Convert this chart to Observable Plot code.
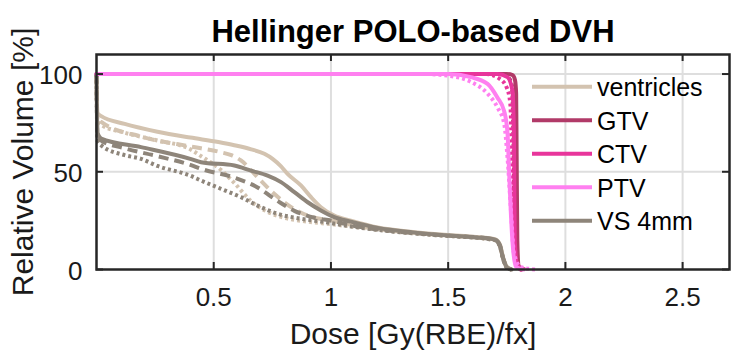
<!DOCTYPE html>
<html><head><meta charset="utf-8">
<script src="https://cdn.jsdelivr.net/npm/d3@7"></script>
<script src="https://cdn.jsdelivr.net/npm/@observablehq/plot@0.6"></script>
<style>body{margin:0;background:#fff} svg{display:block}</style>
</head><body><div id="chart"></div>
<script>
// ---- data ----
const titleText = "Hellinger POLO-based DVH";
const xLabel = "Dose [Gy(RBE)/fx]";
const yLabel = "Relative Volume [%]";
const doseTicks = [0.5, 1, 1.5, 2, 2.5];
const volTicks = [0, 50, 100];
const structures = ["ventricles", "GTV", "CTV", "PTV", "VS 4mm"];
const structureColors = ["#d3c3b0", "#b13a68", "#e8359b", "#ff80f0", "#8e857a"];

const ventSolidDose = [0, 0.004, 0.02, 0.12, 0.26, 0.40, 0.52, 0.588, 0.66, 0.716, 0.751, 0.785, 0.815, 0.872, 0.915, 0.957, 1.014, 1.085, 1.20, 1.35, 1.50, 1.62, 1.70, 1.72, 1.735, 1.75, 1.77];
const ventSolidVol  = [100, 80, 78.5, 74.5, 70.5, 67.5, 65.2, 63.6, 61.5, 59.2, 56.6, 53, 48.9, 43, 37, 31.9, 27.6, 25, 21.5, 19.2, 17.6, 16.6, 15.5, 13, 6, 1.5, 0];
const ventDashDose = [0, 0.004, 0.02, 0.19, 0.40, 0.446, 0.531, 0.575, 0.616, 0.687, 0.758, 0.83, 0.90, 1.014, 1.10, 1.25, 1.40, 1.55, 1.66, 1.70, 1.72, 1.735, 1.75, 1.77];
const ventDashVol  = [100, 78, 75.5, 68, 63, 62, 60, 58.5, 55.8, 47.2, 38.7, 31.9, 27.6, 24.8, 22.5, 20, 18.3, 17, 16, 15.2, 12.5, 5.5, 1.2, 0];
const ventDotDose = [0, 0.004, 0.02, 0.12, 0.26, 0.40, 0.446, 0.53, 0.59, 0.659, 0.73, 0.80, 0.90, 1.0, 1.10, 1.25, 1.40, 1.55, 1.66, 1.70, 1.72, 1.735, 1.75, 1.77];
const ventDotVol  = [100, 76, 74, 70, 66, 61.5, 58, 51, 44, 35, 29.5, 26.5, 24.5, 23.2, 21.8, 19.7, 18, 16.8, 15.8, 15, 12, 5, 1, 0];

const vsSolidDose = [0, 0.004, 0.02, 0.19, 0.40, 0.446, 0.588, 0.659, 0.73, 0.787, 0.844, 0.901, 0.957, 1.014, 1.085, 1.20, 1.35, 1.50, 1.62, 1.70, 1.72, 1.735, 1.75, 1.77];
const vsSolidVol  = [100, 70, 67, 62.6, 56.6, 54.9, 53.2, 50.6, 48, 44.7, 39.6, 34.4, 30.2, 26.8, 24.5, 21.3, 19, 17.4, 16.4, 15.3, 12.5, 5.5, 1.2, 0];
const vsDashDose = [0, 0.004, 0.02, 0.12, 0.26, 0.40, 0.446, 0.588, 0.687, 0.773, 0.844, 0.93, 1.0, 1.10, 1.25, 1.40, 1.55, 1.66, 1.70, 1.72, 1.735, 1.75, 1.77];
const vsDashVol  = [100, 68, 66, 62, 58, 53.5, 51.5, 47, 42, 35, 30, 26.5, 25, 22.3, 19.8, 18.2, 17, 16, 15.2, 12.5, 5.5, 1.2, 0];
const vsDotDose = [0, 0.004, 0.02, 0.12, 0.19, 0.26, 0.40, 0.446, 0.531, 0.616, 0.687, 0.773, 0.872, 1.0, 1.10, 1.25, 1.40, 1.55, 1.66, 1.70, 1.72, 1.735, 1.75, 1.77];
const vsDotVol  = [100, 66, 63.5, 58.5, 56.6, 53, 48, 45.5, 41.3, 37, 32.7, 28.5, 26, 23.8, 21.8, 19.6, 18, 16.8, 15.8, 15, 12, 5, 1, 0];

const ptvSolidDose = [0, 1.50, 1.597, 1.668, 1.71, 1.739, 1.753, 1.76, 1.767, 1.774, 1.789, 1.82];
const ptvSolidVol  = [100, 100, 98.4, 95, 88, 81, 70, 50, 30, 14.8, 1.5, 0];
const ptvDotDose = [0, 1.40, 1.497, 1.597, 1.668, 1.71, 1.739, 1.753, 1.767, 1.781, 1.81, 1.874];
const ptvDotVol  = [100, 100, 99.2, 96, 90, 83, 74.5, 57.4, 31.9, 8, 1.2, 0];
const ctvSolidDose = [0, 1.71, 1.753, 1.774, 1.781, 1.784, 1.796, 1.81];
const ctvSolidVol  = [100, 100, 98.4, 91.6, 66, 14.8, 1.2, 0];
const ctvDotDose = [0, 1.66, 1.72, 1.75, 1.765, 1.772, 1.778, 1.79, 1.83];
const ctvDotVol  = [100, 100, 97.5, 93, 85, 55, 20, 3, 0];
const gtvSolidDose = [0, 1.75, 1.775, 1.785, 1.79, 1.792, 1.795, 1.80, 1.81];
const gtvSolidVol  = [100, 100, 99.5, 97, 90, 60, 15, 2, 0];
const gtvDotDose = [0, 1.72, 1.755, 1.772, 1.778, 1.782, 1.787, 1.80, 1.82];
const gtvDotVol  = [100, 100, 98.5, 94, 70, 35, 10, 1, 0];

// ---- build ----
const color = s => structureColors[structures.indexOf(s)];
const dashes = {solid: null, dashed: "10,6", dotted: "3,3"};
const curves = [
  ["ventricles", "dotted", ventDotDose, ventDotVol],
  ["ventricles", "dashed", ventDashDose, ventDashVol],
  ["ventricles", "solid", ventSolidDose, ventSolidVol],
  ["VS 4mm", "dotted", vsDotDose, vsDotVol],
  ["VS 4mm", "dashed", vsDashDose, vsDashVol],
  ["VS 4mm", "solid", vsSolidDose, vsSolidVol],
  ["GTV", "solid", gtvSolidDose, gtvSolidVol],
  ["GTV", "dotted", gtvDotDose, gtvDotVol],
  ["CTV", "solid", ctvSolidDose, ctvSolidVol],
  ["CTV", "dotted", ctvDotDose, ctvDotVol],
  ["PTV", "solid", ptvSolidDose, ptvSolidVol],
  ["PTV", "dotted", ptvDotDose, ptvDotVol]
];
const lineMarks = curves.map(([s, style, xs, ys]) =>
  Plot.line(xs.map((d, i) => ({dose: d, vol: ys[i]})), {
    x: "dose", y: "vol", stroke: color(s), strokeWidth: 4,
    strokeDasharray: dashes[style],
    strokeLinecap: style === "solid" ? "round" : "butt",
    strokeLinejoin: "round",
    curve: "monotone-x"
  })
);

const W = 739, H = 359, mL = 96, mR = 10, mT = 54, mB = 90;
const frameW = W - mL - mR, frameH = H - mT - mB, tickLen = 7;
const ink = "#1a1a1a";

const plot = Plot.plot({
  width: W, height: H,
  marginLeft: mL, marginRight: mR, marginTop: mT, marginBottom: mB,
  x: {domain: [0, 2.7], axis: null},
  y: {domain: [0, 110], axis: null},
  style: {fontFamily: "'Liberation Sans', Arial, sans-serif", background: "#fff", color: ink},
  marks: [
    Plot.ruleX(doseTicks, {x: d => d, stroke: "#dedede", strokeWidth: 2}),
    Plot.ruleY(volTicks.filter(v => v > 0), {y: d => d, stroke: "#dedede", strokeWidth: 2}),
    ...lineMarks,
    Plot.frame({stroke: "#262626", strokeWidth: 2.5}),
    Plot.tickX(doseTicks, {x: d => d, insetTop: frameH - tickLen, stroke: "#262626", strokeWidth: 2}),
    Plot.tickX(doseTicks, {x: d => d, insetBottom: frameH - tickLen, stroke: "#262626", strokeWidth: 2}),
    Plot.tickY(volTicks, {y: d => d, insetRight: frameW - tickLen, stroke: "#262626", strokeWidth: 2}),
    Plot.tickY(volTicks, {y: d => d, insetLeft: frameW - tickLen, stroke: "#262626", strokeWidth: 2}),
    Plot.text(doseTicks, {x: d => d, text: d => String(d), frameAnchor: "bottom", dy: 36, lineAnchor: "bottom", fontSize: 26, fill: ink}),
    Plot.text(volTicks, {y: d => d, text: d => String(d), frameAnchor: "left", dx: -14, dy: 2, textAnchor: "end", lineAnchor: "middle", fontSize: 26, fill: ink}),
    Plot.text([xLabel], {text: d => d, frameAnchor: "bottom", dy: 74, lineAnchor: "bottom", textAnchor: "middle", fontSize: 30, fill: ink}),
    Plot.text([yLabel], {text: d => d, frameAnchor: "left", rotate: -90, dx: -64, lineAnchor: "bottom", textAnchor: "middle", fontSize: 30, fill: ink}),
    Plot.text([titleText], {text: d => d, frameAnchor: "top", dy: -13, lineAnchor: "bottom", textAnchor: "middle", fontSize: 31, fontWeight: "bold", fill: "#000"})
  ]
});

// legend (inside the axes, top right)
const lg = d3.select(plot).append("g")
  .attr("font-family", "'Liberation Sans', Arial, sans-serif")
  .attr("font-size", 25)
  .attr("text-anchor", "start");
structures.forEach((s, i) => {
  const y = 86.7 + i * 33.5;
  lg.append("line").attr("x1", 532).attr("x2", 592).attr("y1", y).attr("y2", y)
    .attr("stroke", color(s)).attr("stroke-width", 4);
  lg.append("text").attr("x", 597).attr("y", y + 9.5).attr("fill", "#000").text(s);
});

document.getElementById("chart").appendChild(plot);
</script></body></html>
